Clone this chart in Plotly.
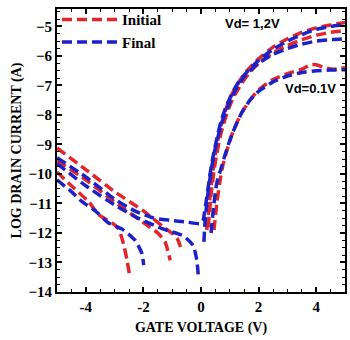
import plotly.graph_objects as go

# Gate voltage (V) / log10 drain current (A); None separates the off-branch from the on-branch
vg_init_hi_a = [-5, -4, -3, -2, -1.3, -0.95, -0.82, -0.72, -0.67, None,
                0.2, 0.3, 0.4, 0.5, 0.65, 0.8, 1.0, 1.3, 1.6, 2.0, 2.5, 3.0, 3.5, 4.0, 4.5, 5.0]
id_init_hi_a = [-9.12, -9.85, -10.6, -11.25, -11.8, -12.05, -12.2, -12.45, -12.65, None,
                -11.9, -10.9, -10.0, -9.3, -8.55, -8.0, -7.45, -6.9, -6.5, -6.1, -5.7, -5.42, -5.2, -5.05, -4.95, -4.87]

vg_init_hi_b = [-5, -4, -3, -2, -1.5, -1.25, -1.15, -1.07, None,
                0.25, 0.35, 0.45, 0.55, 0.7, 0.9, 1.1, 1.4, 1.7, 2.0, 2.5, 3.0, 3.5, 4.0, 4.5, 5.0]
id_init_hi_b = [-9.55, -10.2, -10.95, -11.65, -12.0, -12.3, -12.6, -12.93, None,
                -11.8, -10.7, -9.9, -9.3, -8.6, -7.95, -7.45, -6.95, -6.55, -6.25, -5.9, -5.65, -5.45, -5.3, -5.2, -5.14]

vg_init_lo = [-5, -4.5, -3.9, -3.55, -3.09, -2.86, -2.69, -2.57, -2.49, None,
              0.45, 0.55, 0.65, 0.75, 0.9, 1.1, 1.4, 1.7, 2.0, 2.5, 3.0, 3.5, 3.8, 4.0, 4.3, 4.6, 5.0]
id_init_lo = [-9.93, -10.4, -10.94, -11.38, -11.66, -11.87, -12.37, -12.92, -13.36, None,
              -11.9, -11.0, -10.3, -9.75, -9.2, -8.6, -7.95, -7.5, -7.15, -6.8, -6.6, -6.45, -6.3, -6.3, -6.4, -6.45, -6.4]

vg_final_hi_a = [-5, -4, -3, -2.3, -1.65, -1.07, -0.49, -0.03,
                 0.08, 0.12, 0.2, 0.3, 0.4, 0.55, 0.7, 0.9, 1.2, 1.5, 2.0, 2.5, 3.0, 3.5, 4.0, 4.5, 5.0]
id_final_hi_a = [-9.45, -10.1, -10.85, -11.25, -11.49, -11.57, -11.63, -11.68,
                 -11.55, -11.3, -10.8, -10.1, -9.5, -8.8, -8.2, -7.65, -7.05, -6.65, -6.15, -5.78, -5.5, -5.28, -5.1, -5.0, -4.93]

vg_final_hi_b = [-5, -4, -3, -2.1, -1.3, -0.61, -0.27, -0.15, -0.09, None,
                 0.1, 0.15, 0.25, 0.35, 0.5, 0.7, 0.9, 1.2, 1.5, 2.0, 2.5, 3.0, 3.5, 4.0, 4.5, 5.0]
id_final_hi_b = [-9.65, -10.4, -11.05, -11.54, -11.87, -12.1, -12.43, -12.9, -13.48, None,
                 -12.3, -11.5, -10.6, -9.9, -9.1, -8.35, -7.8, -7.15, -6.7, -6.25, -5.95, -5.75, -5.6, -5.5, -5.45, -5.42]

vg_final_lo = [-5, -4.5, -4.13, -3.67, -3.21, -2.74, -2.28, -2.05, -1.99, None,
               0.35, 0.45, 0.55, 0.7, 0.9, 1.1, 1.4, 1.7, 2.0, 2.5, 3.0, 3.5, 4.0, 4.5, 5.0]
id_final_lo = [-10.2, -10.6, -10.94, -11.25, -11.66, -11.87, -12.26, -12.7, -13.09, None,
               -12.0, -11.0, -10.3, -9.8, -9.15, -8.6, -7.95, -7.5, -7.2, -6.88, -6.68, -6.56, -6.5, -6.48, -6.47]

RED = "#e0262b"
BLUE = "#1c22c8"
SERIF = "Liberation Serif"
SANS = "Liberation Sans"

series = [
    (vg_init_hi_a, id_init_hi_a, RED, "Initial", True),
    (vg_init_hi_b, id_init_hi_b, RED, "Initial", False),
    (vg_init_lo, id_init_lo, RED, "Initial", False),
    (vg_final_hi_a, id_final_hi_a, BLUE, "Final", True),
    (vg_final_hi_b, id_final_hi_b, BLUE, "Final", False),
    (vg_final_lo, id_final_lo, BLUE, "Final", False),
]

fig = go.Figure()
for xs, ys, color, name, show in series:
    fig.add_trace(go.Scatter(
        x=xs, y=ys, mode="lines", name=name, showlegend=show,
        line=dict(color=color, width=3.5, dash="10px,5px", shape="spline", smoothing=0.6),
        connectgaps=False,
    ))

fig.add_annotation(x=1.8, y=-4.9, text="<b>Vd= 1,2V</b>", showarrow=False,
                   font=dict(family=SANS, size=13, color="black"), xanchor="center", yanchor="middle")
fig.add_annotation(x=3.8, y=-7.1, text="<b>Vd=0.1V</b>", showarrow=False,
                   font=dict(family=SANS, size=13, color="black"), xanchor="center", yanchor="middle")

axis_common = dict(
    showline=True, linecolor="black", linewidth=2, mirror="ticks",
    ticks="inside", tickcolor="black", tickwidth=1.5, ticklen=5,
    showgrid=False, zeroline=False,
    tickfont=dict(family=SERIF, size=15, color="black", weight="bold"),
)

fig.update_xaxes(
    range=[-5, 5], tickvals=[-4, -2, 0, 2, 4], ticktext=["-4", "-2", "0", "2", "4"],
    minor=dict(dtick=0.5, tick0=0, ticks="inside", ticklen=3, tickcolor="black", tickwidth=1),
    title=dict(text="<b>GATE VOLTAGE (V)</b>", font=dict(family=SERIF, size=14, color="black"), standoff=8),
    **axis_common,
)
fig.update_yaxes(
    range=[-14, -4.41], dtick=1, tick0=-14,
    minor=dict(dtick=0.25, tick0=0, ticks="inside", ticklen=3, tickcolor="black", tickwidth=1),
    title=dict(text="<b>LOG DRAIN CURRENT (A)</b>", font=dict(family=SERIF, size=14, color="black"), standoff=4),
    **axis_common,
)

fig.update_layout(
    width=350, height=340,
    margin=dict(l=57, r=5, t=3, b=48),
    paper_bgcolor="white", plot_bgcolor="white",
    legend=dict(x=0.0, y=1.02, xanchor="left", yanchor="top", bgcolor="rgba(0,0,0,0)",
                font=dict(family=SERIF, size=15, color="black", weight="bold"),
                tracegroupgap=0, itemwidth=55),
)

fig.write_html("out.html")
